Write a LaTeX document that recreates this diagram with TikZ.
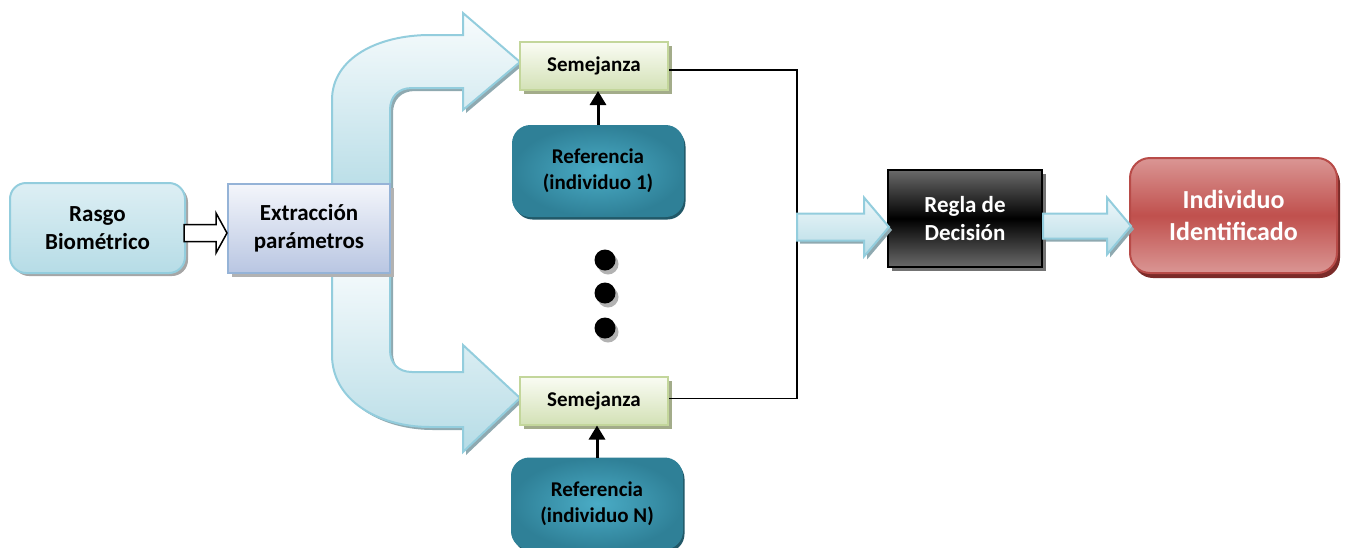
\documentclass[tikz,border=0pt]{standalone}
\usepackage{fontspec}
\setmainfont{Carlito}
\usetikzlibrary{calc,shadows,arrows.meta}

\definecolor{cyanedge}{HTML}{93CDDD}
\definecolor{cyanlight}{HTML}{EEF7FA}
\definecolor{cyandark}{HTML}{B6DCE6}
\definecolor{cyanshadow}{HTML}{8FA9B0}
\definecolor{lavtop}{HTML}{F4F6FB}
\definecolor{lavbot}{HTML}{B9C6E2}
\definecolor{lavedge}{HTML}{95B3D7}
\definecolor{greentop}{HTML}{FAFCF4}
\definecolor{greenbot}{HTML}{D3E1B6}
\definecolor{greenedge}{HTML}{C3D69B}
\definecolor{greenshadow}{HTML}{A3AC8A}
\definecolor{tealout}{HTML}{2F8097}
\definecolor{tealin}{HTML}{4AACC6}
\definecolor{tealshadow}{HTML}{215868}
\definecolor{redmid}{HTML}{C0504D}
\definecolor{redlight}{HTML}{DA9694}
\definecolor{rededge}{HTML}{B84B48}
\definecolor{redshadow}{HTML}{7B2B29}
\definecolor{greyface}{HTML}{6A6A6A}

% horizontal block arrow: style, start, tip, half body, half head, head length
\newcommand{\hblockarrow}[6]{%
  \draw[#1] let \p1=(#2), \p2=(#3) in
    (\x1,\y2+#4pt) -- (\x2-#6pt,\y2+#4pt) -- (\x2-#6pt,\y2+#5pt) -- (\x2,\y2)
    -- (\x2-#6pt,\y2-#5pt) -- (\x2-#6pt,\y2-#4pt) -- (\x1,\y2-#4pt) -- cycle;}

\begin{document}
\begin{tikzpicture}[x=1pt,y=-1pt,
  box/.style={align=center, inner sep=0pt, font=\fontsize{23}{28}\selectfont\bfseries},
  rasgobox/.style={box, draw=cyanedge, line width=2pt, rounded corners=16pt,
    top color=cyanlight!70!cyandark, bottom color=cyandark,
    minimum width=175pt, minimum height=90pt,
    drop shadow={shadow xshift=3pt, shadow yshift=-3pt, fill=black!35, opacity=1}},
  extrbox/.style={box, draw=lavedge, line width=2pt,
    top color=lavtop, bottom color=lavbot,
    minimum width=162pt, minimum height=89pt,
    drop shadow={shadow xshift=4pt, shadow yshift=-4pt, fill=black!30, opacity=1}},
  simbox/.style={box, draw=greenedge, line width=2pt,
    top color=greentop, bottom color=greenbot,
    font=\fontsize{21}{26}\selectfont\bfseries,
    minimum width=148pt, minimum height=48pt,
    drop shadow={shadow xshift=4pt, shadow yshift=-4pt, fill=greenshadow, opacity=1}},
  refbox/.style={box, draw=tealout, line width=1pt, rounded corners=18pt,
    inner color=tealin, outer color=tealout,
    font=\fontsize{21}{26}\selectfont\bfseries,
    minimum width=171pt, minimum height=91pt,
    drop shadow={shadow xshift=2pt, shadow yshift=-3pt, fill=tealshadow, opacity=1}},
  reglabox/.style={box, draw=black, line width=2pt, text=white,
    top color=greyface, bottom color=greyface, middle color=black,
    minimum width=154pt, minimum height=97pt,
    drop shadow={shadow xshift=4pt, shadow yshift=-4pt, fill=black!55, opacity=1}},
  indivbox/.style={box, draw=rededge, line width=2pt, rounded corners=20pt, text=white,
    top color=redlight, bottom color=redlight, middle color=redmid,
    font=\fontsize{26}{32}\selectfont\bfseries,
    minimum width=207pt, minimum height=115pt,
    drop shadow={shadow xshift=3pt, shadow yshift=-5pt, fill=redshadow, opacity=1}},
  dotmark/.style={circle, fill=black, minimum size=21pt, inner sep=0pt,
    drop shadow={shadow xshift=3pt, shadow yshift=-4pt, fill=black!30, opacity=1}},
  bigarrow/.style={draw=cyanedge, line width=2pt, top color=cyanlight!40!white, bottom color=cyandark,
    drop shadow={shadow xshift=3pt, shadow yshift=-3pt, fill=cyanshadow, opacity=1}},
  cyanarrow/.style={draw=cyanedge, line width=2pt, top color=cyanlight, bottom color=cyandark,
    drop shadow={shadow xshift=3pt, shadow yshift=-3pt, fill=cyanshadow, opacity=1}},
  hollowarrow/.style={draw=black, line width=1.5pt, fill=white},
  wire/.style={draw=black, line width=1.6pt},
  uparrow/.style={draw=black, line width=3pt, -{Triangle[length=14pt,width=16pt]}}
]
\useasboundingbox (0,0) rectangle (1346,547);

% two curved feeds leaving the parameter extraction block
\path[bigarrow] (332,200) -- (332,100) .. controls (332,58) and (378,35) .. (430,35)
  -- (463,35) -- (463,13) -- (520,62) -- (463,110) -- (463,88) -- (412,88)
  .. controls (398,88) and (390,97) .. (390,110) -- (390,200) -- cycle;
\path[bigarrow] (332,256) -- (332,355) .. controls (332,400) and (378,427) .. (430,427)
  -- (463,427) -- (463,452) -- (520,398) -- (463,345) -- (463,372) -- (412,372)
  .. controls (398,372) and (390,363) .. (390,350) -- (390,256) -- cycle;

% blocks
\node[rasgobox] (rasgo) at (97.5,228) {Rasgo\\Biométrico};
\node[extrbox] (extr) at (309,228) {Extracción\\parámetros};
\node[simbox] (sem1) at (594,66) {Semejanza};
\node[simbox] (sem2) at (594,400.5) {Semejanza};
\node[refbox] (ref1) at (598,171) {Referencia\\(individuo 1)};
\node[refbox] (refN) at (597,503.5) {Referencia\\(individuo N)};
\node[reglabox] (regla) at (965,218.5) {Regla de\\Decisión};
\node[indivbox] (indiv) at (1233.5,215.5) {Individuo\\Identificado};

% ellipsis between the references
\node[dotmark] (d1) at (605,260) {};
\node[dotmark] (d2) at (605,293) {};
\node[dotmark] (d3) at (605,328) {};

% feature vector into extraction
\coordinate (h1) at ($(rasgo.east)+(-2,5)$);
\hblockarrow{hollowarrow}{h1}{extr.west |- h1}{8.5}{20}{11}

% references into the similarity blocks
\draw[uparrow] (ref1.north) -- (ref1.north |- sem1.south);
\draw[uparrow] (refN.north) -- (refN.north |- sem2.south);

% similarity outputs joined and sent to the decision rule
\coordinate (jn) at (797,227);
\draw[wire] ($(sem1.east)+(0,4)$) -| (jn) |- ($(sem2.east)+(0,-2)$);
\hblockarrow{cyanarrow}{jn}{$(regla.west |- jn)+(2,0)$}{13.5}{29.5}{25}

\coordinate (a2) at ($(regla.east)+(0,7.5)$);
\hblockarrow{cyanarrow}{a2}{$(indiv.west |- a2)+(2,0)$}{12.5}{28.5}{24}
\end{tikzpicture}
\end{document}
